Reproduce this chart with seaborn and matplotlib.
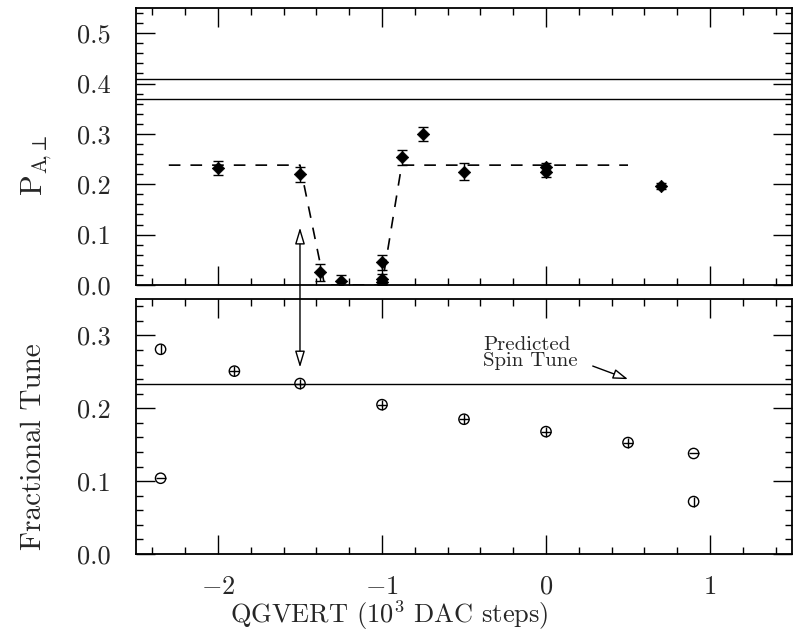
import pandas as pd
import matplotlib
matplotlib.use("Agg")
import matplotlib.pyplot as plt
from matplotlib.ticker import MultipleLocator, FormatStrFormatter
import seaborn as sns

# top panel: measured polarization with errors
pol_x = [-2.0, -1.5, -1.375, -1.25, -1.0, -1.0, -1.0, -0.875, -0.75, -0.5, 0.0, 0.0, 0.7]
pol_y = [0.232, 0.220, 0.025, 0.007, 0.045, 0.011, 0.006, 0.254, 0.300, 0.225, 0.234, 0.224, 0.197]
pol_err = [0.014, 0.015, 0.017, 0.012, 0.015, 0.010, 0.006, 0.015, 0.014, 0.017, 0.008, 0.010, 0.006]

# dashed guide through the resonance dip
guide_x = [-2.3, -1.5, -1.35, -1.0, -0.88, 0.5]
guide_y = [0.238, 0.238, 0.0, 0.0, 0.238, 0.238]

ref_lines_top = [0.41, 0.37]

# bottom panel: fractional tunes
tune_plus_x = [-1.9, -1.5, -1.0, -0.5, 0.0, 0.5]
tune_plus_y = [0.251, 0.234, 0.205, 0.185, 0.168, 0.153]
tune_vbar_x = [-2.35, 0.9]
tune_vbar_y = [0.281, 0.072]
tune_hbar_x = [-2.35, 0.9]
tune_hbar_y = [0.104, 0.138]

spin_tune = 0.234

sns.set_style("ticks")
plt.rcParams['font.family'] = ['cmr10', 'DejaVu Serif']
plt.rcParams['mathtext.fontset'] = 'cm'
plt.rcParams['axes.formatter.use_mathtext'] = True
plt.rcParams['axes.unicode_minus'] = True

fig = plt.figure(figsize=(7.98, 6.41), dpi=100)
ax1 = fig.add_axes([0.1704, 0.5554, 0.8221, 0.4321])
ax2 = fig.add_axes([0.1704, 0.1357, 0.8221, 0.3978])

top = pd.DataFrame({'x': pol_x, 'y': pol_y, 'err': pol_err})
ax1.errorbar(top['x'], top['y'], yerr=top['err'], fmt='none', ecolor='k',
             elinewidth=1.0, capsize=3.5, capthick=1.0)
sns.scatterplot(data=top, x='x', y='y', marker='D', s=40, color='k',
                edgecolor='k', linewidth=0.5, ax=ax1, zorder=3)
sns.lineplot(x=guide_x, y=guide_y, sort=False, estimator=None, color='k',
             lw=1.2, linestyle=(0, (7, 6)), ax=ax1)
for v in ref_lines_top:
    ax1.axhline(v, color='k', lw=1.0)

# bottom panel markers: open circles with a cross / bar inside
for xs, ys, inner in [(tune_plus_x, tune_plus_y, '+'),
                      (tune_vbar_x, tune_vbar_y, '|'),
                      (tune_hbar_x, tune_hbar_y, '_')]:
    sns.scatterplot(x=xs, y=ys, marker='o', s=55, facecolor='none',
                    edgecolor='k', linewidth=1.0, ax=ax2, zorder=3)
    sns.scatterplot(x=xs, y=ys, marker=inner, s=55, color='k',
                    linewidth=1.0, ax=ax2, zorder=3)
ax2.axhline(spin_tune, color='k', lw=1.0)

# double arrow linking the resonance in both panels
ax2.annotate('', xy=(-1.5, 0.256), xycoords='data',
             xytext=(-1.5, 0.114), textcoords=ax1.transData,
             arrowprops=dict(arrowstyle='<|-|>,head_length=1.0,head_width=0.3',
                             fc='white', ec='k', lw=1.0, shrinkA=0, shrinkB=0),
             annotation_clip=False)

ax2.text(-0.385, 0.253, 'Predicted\nSpin Tune', fontsize=15, ha='left',
         va='bottom', linespacing=0.82)
ax2.annotate('', xy=(0.5, 0.240), xytext=(0.285, 0.258),
             arrowprops=dict(arrowstyle='-|>,head_length=0.9,head_width=0.3',
                             fc='white', ec='k', lw=1.0, shrinkA=0, shrinkB=0))

for ax in (ax1, ax2):
    ax.set_xlim(-2.5, 1.5)
    ax.xaxis.set_major_locator(MultipleLocator(1))
    ax.xaxis.set_minor_locator(MultipleLocator(0.2))
    ax.yaxis.set_major_locator(MultipleLocator(0.1))
    ax.yaxis.set_minor_locator(MultipleLocator(0.02))
    ax.yaxis.set_major_formatter(FormatStrFormatter('%.1f'))
    ax.tick_params(which='both', direction='in', top=True, right=True,
                   width=1.0, color='k', labelsize=19)
    ax.tick_params(which='major', length=14)
    ax.tick_params(which='minor', length=5)
    ax.tick_params(axis='x', which='major', pad=15)
    ax.tick_params(axis='y', which='major', pad=18)
    for s in ax.spines.values():
        s.set_linewidth(1.3)
        s.set_color('k')
    ax.set_xlabel('')

ax1.set_ylim(0, 0.55)
ax1.tick_params(labelbottom=False)
ax2.set_ylim(0, 0.35)

ax1.set_ylabel(r'$\mathrm{P}_{\mathrm{A}\!,\!\perp}$', fontsize=22)
ax1.yaxis.set_label_coords(-0.125, 0.43)
ax2.set_ylabel('Fractional Tune', fontsize=21)
ax2.yaxis.set_label_coords(-0.135, 0.42)
ax2.set_xlabel(r'QGVERT (10$^3$ DAC steps)', fontsize=19)
ax2.xaxis.set_label_coords(0.386, -0.175)

fig.savefig('out.png', dpi=100)
